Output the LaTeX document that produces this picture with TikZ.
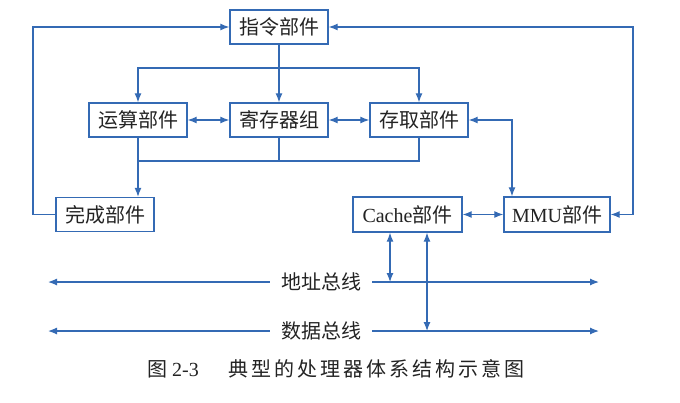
\documentclass[tikz,border=0pt]{standalone}
\usepackage{fontspec}
\setmainfont{Noto Sans CJK SC}
\newfontfamily\lat{Liberation Serif}
\usetikzlibrary{arrows.meta}
\definecolor{ln}{RGB}{52,106,180}
\definecolor{tx}{RGB}{35,35,35}
\newcommand\cs{\hspace{3pt}}
\begin{document}
\begin{tikzpicture}[x=1pt,y=-1pt,
  box/.style={draw=ln,line width=1.4pt,fill=white,text=tx,minimum width=98pt,minimum height=34pt,inner sep=0pt,font=\fontsize{20}{20}\selectfont},
  lbl/.style={text=tx,minimum width=102pt,inner sep=0pt,font=\fontsize{20}{20}\selectfont},
  conn/.style={draw=ln,line width=1.2pt},
  tip/.style={-{Latex[length=9pt,width=7pt]}},
  dtip/.style={{Latex[length=9pt,width=7pt]}-{Latex[length=9pt,width=7pt]}}]
\useasboundingbox (0,0) rectangle (680,402);
\node[box] (zl) at (279,27) {指令部件};
\node[box] (ys) at (138,120) {运算部件};
\node[box] (jc) at (279,120) {寄存器组};
\node[box] (cq) at (419,120) {存取部件};
\node[box] (wc) at (105,214.5) {完成部件};
\node[box,minimum width=109pt,minimum height=35pt] (ca) at (407.5,214.5) {{\lat Cache}部件};
\node[box,minimum width=106pt,minimum height=35pt] (mm) at (557,214.5) {{\lat MMU}部件};
% left loop
\coordinate (l1) at (33,214.5);
\coordinate (l2) at (33,27);
\draw[conn,tip] (wc.west) -- (l1) -- (l2) -- (zl.west);
% right loop
\coordinate (r1) at (633,27);
\coordinate (r2) at (633,214.5);
\draw[conn,dtip] (zl.east) -- (r1) -- (r2) -- (mm.east);
% instruction to register
\draw[conn,tip] (zl.south) -- (jc.north);
\coordinate (t1) at (138,68);
\coordinate (t2) at (419,68);
\draw[conn,dtip] (ys.north) -- (t1) -- (t2) -- (cq.north);
\draw[conn,dtip] (ys.east) -- (jc.west);
\draw[conn,dtip] (jc.east) -- (cq.west);
% bottom collection
\coordinate (b1) at (138,161);
\coordinate (b2) at (279,161);
\coordinate (b3) at (419,161);
\draw[conn] (jc.south) -- (b2);
\draw[conn] (cq.south) -- (b3) -- (b1);
\draw[conn,tip] (ys.south) -- (ys.south |- wc.north);
% access to MMU
\coordinate (m1) at (512,120);
\draw[conn,dtip] (cq.east) -- (m1) -- (m1 |- mm.north);
\draw[conn,dtip] (ca.east) -- (mm.west);
% buses
\node[lbl] (ab) at (321,282) {地址总线};
\node[lbl] (db) at (321,331) {数据总线};
\coordinate (abl) at (48,282);
\coordinate (abr) at (599,282);
\coordinate (dbl) at (48,331);
\coordinate (dbr) at (599,331);
\draw[conn,tip] (ab.west) -- (abl);
\draw[conn,tip] (ab.east) -- (abr);
\draw[conn,tip] (db.west) -- (dbl);
\draw[conn,tip] (db.east) -- (dbr);
\coordinate (v1) at (390,282);
\coordinate (v2) at (427,331);
\draw[conn,dtip] (ca.south -| v1) -- (v1);
\draw[conn,dtip] (ca.south -| v2) -- (v2);
% caption
\node[anchor=west,text=tx,inner sep=0pt,font=\fontsize{20}{20}\selectfont] (cap) at (147,369)
  {图\hspace{5pt}{\lat 2-3}\hspace{30pt}典\cs 型\cs 的\cs 处\cs 理\cs 器\cs 体\cs 系\cs 结\cs 构\cs 示\cs 意\cs 图};
\end{tikzpicture}
\end{document}
